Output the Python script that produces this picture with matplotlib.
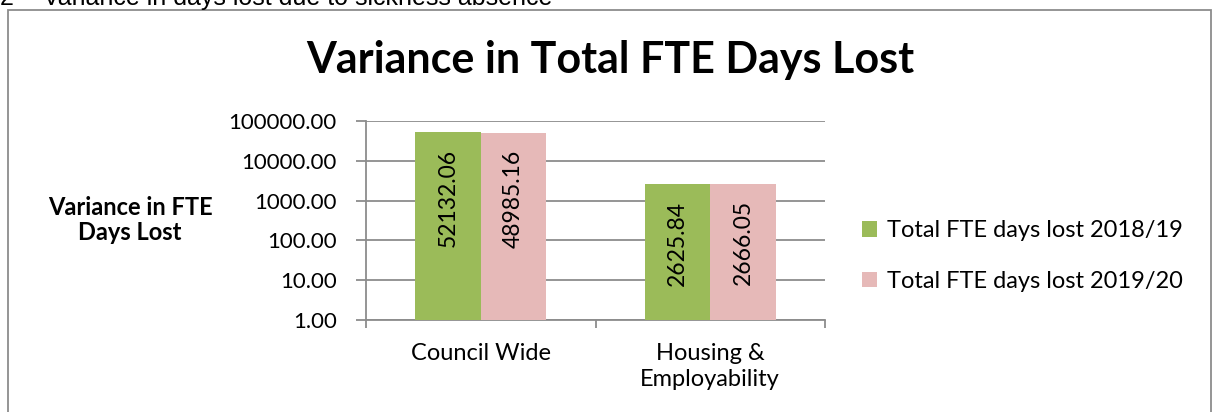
import matplotlib
matplotlib.use("Agg")
import matplotlib.pyplot as plt
import numpy as np
from matplotlib.patches import Rectangle

categories = ["Council Wide", "Housing &\nEmployability"]
series_names = ["Total FTE days lost 2018/19", "Total FTE days lost 2019/20"]
values_1819 = [52132.06, 2625.84]
values_1920 = [48985.16, 2666.05]
ytick_vals = [1, 10, 100, 1000, 10000, 100000]
ytick_labels = ["1.00", "10.00", "100.00", "1000.00", "10000.00", "100000.00"]

plt.rcParams['font.family'] = ['Lato', 'DejaVu Sans']
W, H = 1215, 412
fig = plt.figure(figsize=(W / 100, H / 100), dpi=100)

# outer chart border
fig.patches.append(Rectangle((8 / W, -0.05), (1211 - 8) / W, 1.05 - 10 / H,
                             transform=fig.transFigure, fill=False,
                             edgecolor='#8c8c8c', linewidth=1.3, clip_on=False))
# cut-off heading above the chart (cut off in the reference too)
fig.text(0 / W, 1 - 5 / H, "2", fontsize=18, family=['Liberation Sans'],
         va='baseline', ha='left')
fig.text(43 / W, 1 - 5 / H, "Variance in days lost due to sickness absence",
         fontsize=18, family=['Liberation Sans'], va='baseline', ha='left')

ax = fig.add_axes([366 / W, 1 - 320 / H, (825 - 366) / W, (320 - 121) / H])
ax.set_yscale('log')
ax.set_ylim(1, 100000)
ax.set_xlim(-0.5, 1.5)

x = np.arange(len(categories))
bw = 0.286
colors = ['#9BBB59', '#E6B9B8']
b1 = ax.bar(x - bw / 2, values_1819, width=bw, color=colors[0], label=series_names[0], zorder=3)
b2 = ax.bar(x + bw / 2, values_1920, width=bw, color=colors[1], label=series_names[1], zorder=3)

for bars, vals in ((b1, values_1819), (b2, values_1920)):
    for rect, v in zip(bars, vals):
        ax.annotate(f"{v:.2f}", (rect.get_x() + rect.get_width() / 2, v),
                    xytext=(0, -12), textcoords='offset points',
                    rotation=90, ha='center', va='top', fontsize=16.5, zorder=4)

ax.set_yticks(ytick_vals)
ax.set_yticklabels(ytick_labels, fontsize=16)
ax.yaxis.set_minor_locator(matplotlib.ticker.NullLocator())
ax.grid(axis='y', color='#8c8c8c', linewidth=1.3, zorder=0)
ax.tick_params(axis='y', length=7, width=1.3, color='#8c8c8c', pad=14)

ax.set_xticks([-0.5, 0.5, 1.5])
ax.set_xticklabels([])
ax.tick_params(axis='x', length=6, width=1.3, color='#8c8c8c', direction='out')
for xi, c in zip(x, categories):
    ax.text(xi, -0.115, c, transform=ax.get_xaxis_transform(), ha='center', va='top',
            fontsize=17, linespacing=1.3)

for s in ['top', 'right']:
    ax.spines[s].set_visible(False)
for s in ['left', 'bottom']:
    ax.spines[s].set_color('#8c8c8c')
    ax.spines[s].set_linewidth(1.3)

fig.text(610 / W, 1 - 60 / H, "Variance in Total FTE Days Lost", fontsize=31,
         fontweight='bold', ha='center', va='center')
fig.text(130 / W, 1 - 220 / H, "Variance in FTE\nDays Lost", fontsize=17,
         fontweight='bold', ha='center', va='center', linespacing=1.15)

fig.legend(handles=[b1, b2], labels=series_names, loc='center left',
           bbox_to_anchor=(862 / W, 1 - 256 / H), frameon=False, fontsize=17,
           handlelength=0.65, handleheight=0.65, handletextpad=0.4, labelspacing=1.25,
           borderaxespad=0, borderpad=0)

fig.savefig("out.png", dpi=100)
